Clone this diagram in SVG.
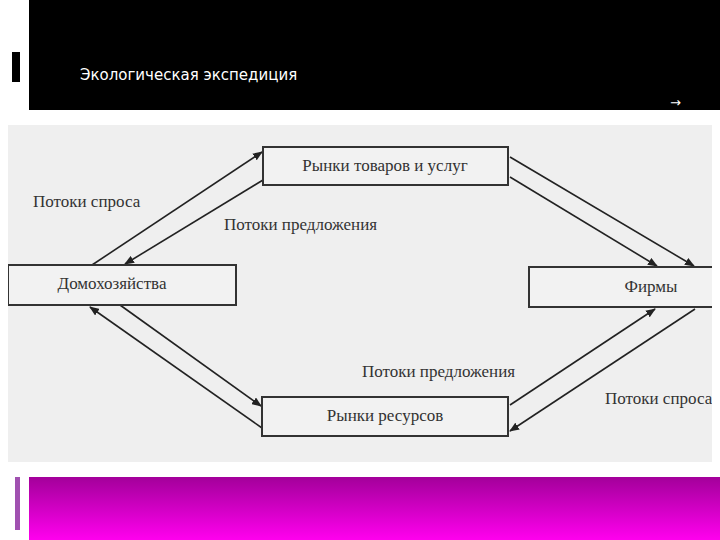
<svg xmlns="http://www.w3.org/2000/svg" width="720" height="540" viewBox="0 0 720 540">
<defs>
<linearGradient id="mg" x1="0" y1="0" x2="0" y2="1"><stop offset="0" stop-color="#a3009a"/><stop offset="1" stop-color="#ff00ee"/></linearGradient>
<marker id="ah" markerWidth="10" markerHeight="8" refX="9" refY="4" orient="auto" markerUnits="userSpaceOnUse"><path d="M0,0 L10,4 L0,8 Z" fill="#222"/></marker>
<clipPath id="cp"><rect x="8" y="125" width="704" height="337"/></clipPath>
<style>
.bx{fill:#f2f2f2;stroke:#333;stroke-width:2}
.t{font-family:"Liberation Serif",serif;font-size:17px;fill:#333}
.c line{stroke:#222;stroke-width:1.6;marker-end:url(#ah)}
</style>
</defs>
<rect width="720" height="540" fill="#fff"/>
<rect x="29" y="0" width="691" height="110" fill="#000"/>
<rect x="12" y="52" width="8" height="30" fill="#000"/>
<text x="80" y="80" font-family="DejaVu Sans,sans-serif" font-size="15" fill="#fff">Экологическая  экспедиция</text>
<text x="670" y="107" font-family="DejaVu Sans,sans-serif" font-size="13" fill="#fff">→</text>
<rect x="8" y="125" width="704" height="337" fill="#efefef"/>
<rect x="29" y="477" width="691" height="63" fill="url(#mg)"/>
<rect x="15" y="477" width="5" height="53" fill="#a050b0"/>
<g clip-path="url(#cp)">
<g class="c">
<line x1="92" y1="265" x2="262" y2="152"/>
<line x1="263" y1="180" x2="125" y2="264"/>
<line x1="510" y1="157" x2="694" y2="266"/>
<line x1="510" y1="177" x2="657" y2="266"/>
<line x1="510" y1="405" x2="655" y2="309"/>
<line x1="695" y1="309" x2="510" y2="431"/>
<line x1="120" y1="305" x2="261" y2="406"/>
<line x1="262" y1="428" x2="90" y2="307"/>
</g>
<g id="n1"><rect class="bx" x="263" y="147" width="245" height="38"/><text class="t" x="385" y="171" text-anchor="middle">Рынки товаров и услуг</text></g>
<g id="n2"><rect class="bx" x="8" y="265" width="228" height="40"/><text class="t" x="112" y="289" text-anchor="middle">Домохозяйства</text></g>
<g id="n3"><rect class="bx" x="529" y="267" width="200" height="40"/><text class="t" x="651" y="292" text-anchor="middle">Фирмы</text></g>
<g id="n4"><rect class="bx" x="262" y="397" width="246" height="39"/><text class="t" x="385" y="421" text-anchor="middle">Рынки ресурсов</text></g>
<text class="t" x="33" y="207">Потоки спроса</text>
<text class="t" x="224" y="230">Потоки предложения</text>
<text class="t" x="362" y="377">Потоки предложения</text>
<text class="t" x="605" y="404">Потоки спроса</text>
</g>
</svg>
